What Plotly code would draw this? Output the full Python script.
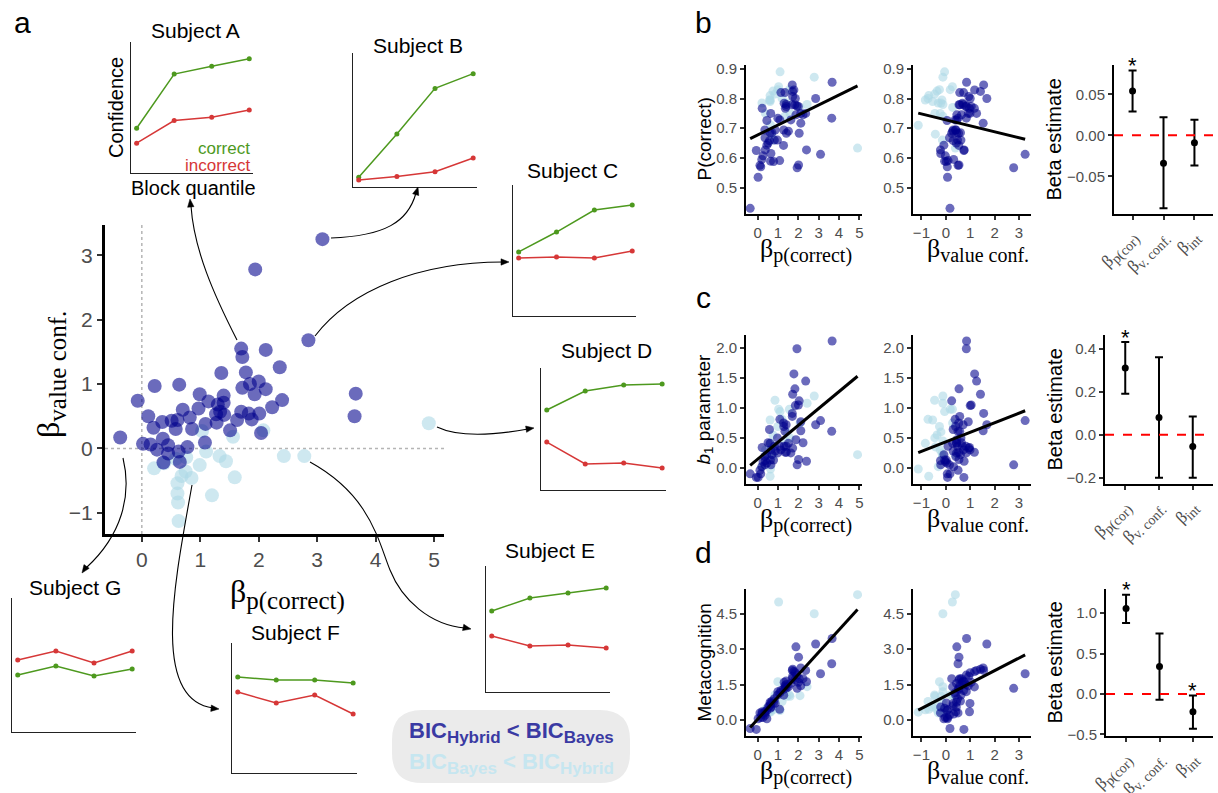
import numpy as np
import plotly.graph_objects as go

W, H = 1218, 793
SANS = "Liberation Sans, Arial, sans-serif"
SERIF = "Liberation Serif, Times New Roman, serif"
GRAY = "#4d4d4d"
DARK = "rgba(0,0,139,0.58)"
LIGHT = "rgba(173,216,230,0.6)"
GREEN = "#4d991e"
RED = "#d63737"

# ---------------- data: subjects (BIC_Hybrid < BIC_Bayes) ----------------
dark_bp = [-0.37, -0.07, 0.02, 0.11, 0.15, 0.20, 0.22, 0.26, 0.35, 0.36, 0.37, 0.45, 0.45, 0.51, 0.58,
           0.61, 0.63, 0.64, 0.65, 0.70, 0.78, 0.82, 0.86, 0.97, 0.99, 1.08, 1.09, 1.14, 1.27, 1.28,
           1.30, 1.34, 1.36, 1.40, 1.40, 1.41, 1.51, 1.63, 1.70, 1.70, 1.72, 1.72, 1.78, 1.83, 1.85,
           1.88, 1.93, 1.94, 2.00, 2.01, 2.04, 2.12, 2.12, 2.23, 2.36, 2.40, 2.85, 3.09, 3.64, 3.66]
dark_bv = [0.17, 0.74, 0.07, 0.50, 0.06, 0.32, 0.97, -0.02, 0.41, 0.15, -0.22, 0.05, -0.08, 0.43, 0.30,
           0.44, -0.05, 0.99, -0.21, 0.60, 0.02, 0.48, 0.30, 0.62, 0.84, 0.09, 0.38, 0.73, 0.53, 0.40,
           0.68, 0.57, 1.17, 0.82, 0.71, 0.52, 0.28, 0.44, 1.55, 0.57, 1.42, 0.94, 1.18, 0.54, 1.00,
           0.45, 0.84, 2.78, 1.04, 0.54, 0.24, 1.53, 0.92, 0.64, 1.26, 0.75, 1.68, 3.25, 0.50, 0.85]
dark_pc = [0.43, 0.625, 0.535, 0.575, 0.57, 0.595, 0.767, 0.607, 0.694, 0.668, 0.627, 0.726, 0.643, 0.65, 0.658,
           0.685, 0.589, 0.75, 0.615, 0.685, 0.588, 0.66, 0.694, 0.66, 0.734, 0.591, 0.728, 0.82, 0.642, 0.694,
           0.784, 0.82, 0.767, 0.773, 0.78, 0.683, 0.69, 0.728, 0.846, 0.779, 0.824, 0.807, 0.829, 0.779, 0.80,
           0.745, 0.775, 0.567, 0.773, 0.576, 0.683, 0.717, 0.75, 0.745, 0.75, 0.627, 0.80, 0.612, 0.734, 0.855]
dark_b1 = [-0.10, -0.16, -0.16, -0.04, -0.10, 0.02, 0.34, 0.10, 0.19, 0.05, 0.12, 0.08, 0.22, 0.42, 0.64,
           0.41, 0.13, 0.30, 0.05, 0.22, 0.13, 0.36, 0.28, 0.50, 0.25, 0.36, 0.81, 0.30, 0.75, 0.69,
           0.36, 0.61, 0.26, 0.36, 0.72, 0.26, 0.41, 0.25, 0.91, 0.86, 1.23, 0.33, 1.57, 1.32, 1.04,
           0.47, 1.99, 0.05, 1.05, 0.14, 1.12, 0.62, 0.77, 0.42, 1.45, 0.11, 0.72, 0.79, 0.61, 2.12]
dark_meta = [-0.36, -0.40, 0.05, 0.30, 0.10, 0.25, 0.35, 0.10, 0.35, 0.20, 0.30, 0.40, 0.05, 0.55, 0.60,
             0.75, 0.50, 0.70, 0.55, 0.80, 0.72, 0.90, 0.70, 1.05, 1.20, 0.45, 1.15, 1.25, 1.30, 1.05,
             1.60, 1.45, 1.40, 1.50, 1.65, 1.35, 1.40, 1.55, 2.10, 1.75, 2.15, 1.85, 2.05, 1.70, 2.00,
             3.10, 1.90, 1.34, 1.60, 2.66, 1.75, 2.20, 1.45, 1.75, 2.10, 1.62, 3.22, 1.96, 2.38, 3.45]

# ---------------- data: subjects (BIC_Bayes < BIC_Hybrid) ----------------
light_bp = [0.21, 0.38, 0.58, 0.61, 0.61, 0.62, 0.63, 0.68, 0.75, 0.76, 0.85, 0.99, 1.03, 1.10, 1.20,
            1.33, 1.44, 1.56, 1.59, 2.08, 2.43, 2.78, 4.91]
light_bv = [-0.31, -0.23, -0.16, -0.54, -0.70, -0.84, -1.13, -0.43, -0.36, -0.14, -0.46, -0.26, 0.27, -0.05, -0.73,
            -0.12, -0.20, 0.18, -0.45, 0.28, -0.12, -0.12, 0.39]
light_pc = [0.785, 0.75, 0.795, 0.79, 0.81, 0.795, 0.71, 0.68, 0.825, 0.66, 0.815, 0.83, 0.84, 0.89, 0.80,
            0.74, 0.785, 0.83, 0.75, 0.77, 0.78, 0.872, 0.633]
light_b1 = [0.02, 0.30, 0.25, 0.80, -0.14, 0.41, -0.02, 0.35, 0.55, 0.20, 1.13, 0.69, 0.98, 0.94, 0.81,
            0.45, 0.60, 0.98, 0.50, 0.75, 1.08, 1.20, 0.22]
light_meta = [0.30, 0.45, 0.35, 0.55, 0.45, 0.43, 0.33, 0.60, 0.43, 0.75, 1.06, 1.62, 5.0, 0.40, 0.78,
              1.20, 1.00, 1.06, 1.0, 1.03, 1.41, 4.5, 5.31]

# regression lines (intercept, slope)
fit_pc_bp = (0.6775, 0.0336)
fit_pc_bv = (0.7282, -0.0201)
fit_b1_bp = (0.146, 0.282)
fit_b1_bv = (0.434, 0.160)
fit_meta_bp = (0.032, 0.947)
fit_meta_bv = (1.023, 0.534)


def sub(base, s, px_size):
    return f"{base}<sub><span style='font-size:{px_size}px'>{s}</span></sub>"


# beta estimates
beta_labels = [sub("β", "p(cor)", 14), sub("β", "v. conf.", 14), sub("β", "int", 14)]
beta_pc_est = [0.054, -0.034, -0.009]
beta_pc_lo = [0.029, -0.089, -0.037]
beta_pc_hi = [0.079, 0.022, 0.019]
beta_pc_sig = [True, False, False]
beta_b1_est = [0.31, 0.08, -0.055]
beta_b1_lo = [0.19, -0.20, -0.20]
beta_b1_hi = [0.43, 0.36, 0.085]
beta_b1_sig = [True, False, False]
beta_meta_est = [1.06, 0.34, -0.22]
beta_meta_lo = [0.88, -0.07, -0.43]
beta_meta_hi = [1.23, 0.75, -0.02]
beta_meta_sig = [True, False, True]

# example subjects: confidence by block quantile
quantiles = [1, 2, 3, 4]
subjects = ["Subject A", "Subject B", "Subject C", "Subject D", "Subject E", "Subject F", "Subject G"]
conf_correct = {
    "Subject A": [0.342, 0.755, 0.815, 0.873],
    "Subject B": [0.072, 0.396, 0.736, 0.846],
    "Subject C": [0.489, 0.641, 0.809, 0.847],
    "Subject D": [0.656, 0.811, 0.860, 0.869],
    "Subject E": [0.643, 0.746, 0.786, 0.825],
    "Subject F": [0.738, 0.715, 0.715, 0.692],
    "Subject G": [0.425, 0.493, 0.418, 0.470],
}
conf_incorrect = {
    "Subject A": [0.228, 0.400, 0.426, 0.481],
    "Subject B": [0.052, 0.079, 0.114, 0.216],
    "Subject C": [0.443, 0.450, 0.443, 0.496],
    "Subject D": [0.393, 0.213, 0.221, 0.180],
    "Subject E": [0.444, 0.365, 0.373, 0.349],
    "Subject F": [0.623, 0.538, 0.600, 0.454],
    "Subject G": [0.537, 0.604, 0.515, 0.604],
}

# ---------------- figure ----------------
fig = go.Figure()
annotations = []
shapes = []
counter = [0]


def px(x):
    return x / W


def py(y):
    return 1 - y / H


def add_axes(x0, x1, y0, y1, xaxis, yaxis):
    counter[0] += 1
    n = counter[0]
    sx = "" if n == 1 else str(n)
    xa, ya = "xaxis" + sx, "yaxis" + sx
    xr, yr = "x" + sx, "y" + sx
    xaxis = dict(xaxis, domain=[px(x0), px(x1)], anchor=yr)
    yaxis = dict(yaxis, domain=[py(y1), py(y0)], anchor=xr)
    fig.update_layout({xa: xaxis, ya: yaxis})
    return xr, yr


def std_axis(size=15, lw=2, **kw):
    d = dict(showgrid=False, zeroline=False, showline=True, linecolor="black", linewidth=lw,
             ticks="outside", ticklen=4, tickwidth=1.5, tickcolor="#333333",
             tickfont=dict(family=SANS, size=size, color=GRAY), automargin=False, fixedrange=True)
    d.update(kw)
    return d


def ann(x, y, text, size, color="black", family=SANS, angle=0, xanchor="center", yanchor="middle", **kw):
    d = dict(x=px(x), y=py(y), xref="paper", yref="paper", text=text, showarrow=False,
             font=dict(family=family, size=size, color=color), textangle=angle,
             xanchor=xanchor, yanchor=yanchor)
    d.update(kw)
    annotations.append(d)


def ppath(cmds):
    out = []
    for c in cmds:
        letter, nums = c[0], c[1:]
        pts = []
        for i in range(0, len(nums), 2):
            pts.append(f"{px(nums[i]):.5f},{py(nums[i + 1]):.5f}")
        out.append(letter + " " + " ".join(pts))
    return " ".join(out)


# ---- panel a: main scatter ----
xr, yr = add_axes(105, 444, 225, 534,
                  std_axis(size=21, lw=3, range=[-0.63, 5.17], tickvals=[0, 1, 2, 3, 4, 5], ticklen=5),
                  std_axis(size=21, lw=3, range=[-1.33, 3.47], tickvals=[-1, 0, 1, 2, 3], ticklen=5))
shapes.append(dict(type="line", xref=xr, yref=yr + " domain", x0=0, x1=0, y0=0, y1=1,
                   line=dict(color="#b5b5b5", width=1.5, dash="dot"), layer="below"))
shapes.append(dict(type="line", xref=xr + " domain", yref=yr, x0=0, x1=1, y0=0, y1=0,
                   line=dict(color="#b5b5b5", width=1.5, dash="dot"), layer="below"))
fig.add_trace(go.Scatter(x=light_bp, y=light_bv, mode="markers", xaxis=xr, yaxis=yr,
                         marker=dict(color=LIGHT, size=14, line_width=0)))
fig.add_trace(go.Scatter(x=dark_bp, y=dark_bv, mode="markers", xaxis=xr, yaxis=yr,
                         marker=dict(color=DARK, size=14, line_width=0)))
ann(50, 375, sub("β", "value conf.", 25), 32, family=SERIF, angle=-90)
ann(287, 594, sub("β", "p(correct)", 25), 32, family=SERIF)
ann(22, 22, "a", 30)

# ---- insets ----
inset_boxes = {
    "Subject A": (131, 253, 42, 173),
    "Subject B": (353, 477, 53, 187),
    "Subject C": (513, 636, 185, 316),
    "Subject D": (541, 666, 368, 490),
    "Subject E": (486, 610, 566, 692),
    "Subject F": (232, 357, 643, 773),
    "Subject G": (12, 136, 598, 732),
}
title_pos = {
    "Subject A": (195, 31), "Subject B": (418, 45), "Subject C": (572, 170), "Subject D": (606, 350),
    "Subject E": (550, 550), "Subject F": (295, 632), "Subject G": (75, 587),
}
for s in subjects:
    x0, x1, y0, y1 = inset_boxes[s]
    ia = dict(showgrid=False, zeroline=False, showline=True, linecolor="#222222", linewidth=1.2,
              ticks="", showticklabels=False, automargin=False, fixedrange=True)
    xr_i, yr_i = add_axes(x0, x1, y0, y1, dict(ia, range=[0.85, 4.1]), dict(ia, range=[0, 1]))
    fig.add_trace(go.Scatter(x=quantiles, y=conf_correct[s], mode="lines+markers", xaxis=xr_i, yaxis=yr_i,
                             line=dict(color=GREEN, width=1.5), marker=dict(color=GREEN, size=5)))
    fig.add_trace(go.Scatter(x=quantiles, y=conf_incorrect[s], mode="lines+markers", xaxis=xr_i, yaxis=yr_i,
                             line=dict(color=RED, width=1.5), marker=dict(color=RED, size=5)))
    tx, ty = title_pos[s]
    ann(tx, ty, s, 21)

ann(116, 108, "Confidence", 20, angle=-90)
ann(193, 188, "Block quantile", 20)
ann(252, 149, "correct", 17, color=GREEN, xanchor="right")
ann(252, 165, "incorrect", 17, color=RED, xanchor="right")

# ---- arrows (curved connectors with triangular heads) ----
arrows = [
    ([("M", 237, 340), ("C", 214, 295, 194, 250, 191, 206)], (190, 199), (-0.1, -1)),
    ([("M", 331, 238), ("C", 385, 236, 408, 222, 416, 193)], (418, 187), (0.3, -1)),
    ([("M", 315, 336), ("C", 350, 290, 420, 262, 503, 262)], (509, 262), (1, 0)),
    ([("M", 437, 427), ("C", 460, 438, 495, 435, 528, 429)], (534, 428), (1, -0.15)),
    ([("M", 310, 462), ("C", 370, 495, 378, 540, 390, 570), ("S", 430, 625, 465, 628)], (471, 629), (1, 0.2)),
    ([("M", 192, 485), ("C", 175, 580, 150, 700, 213, 708)], (219, 709), (1, 0.1)),
    ([("M", 123, 458), ("C", 132, 495, 122, 535, 86, 568)], (82, 573), (-0.7, 1)),
]
for path, tip, d in arrows:
    shapes.append(dict(type="path", xref="paper", yref="paper", path=ppath(path),
                       line=dict(color="black", width=1.1)))
    dv = np.array(d, dtype=float)
    dv = dv / np.linalg.norm(dv)
    nv = np.array([-dv[1], dv[0]])
    t = np.array(tip, dtype=float)
    base = t - dv * 8
    p1 = base + nv * 3.2
    p2 = base - nv * 3.2
    shapes.append(dict(type="path", xref="paper", yref="paper", fillcolor="black",
                       line=dict(color="black", width=0.5),
                       path=ppath([("M", t[0], t[1]), ("L", p1[0], p1[1]), ("L", p2[0], p2[1]), ("Z",)])))

# ---- BIC legend ----
bx0, bx1, by0, by1, r = 392, 630, 710, 783, 30
shapes.append(dict(type="path", xref="paper", yref="paper", fillcolor="#ebebeb", line=dict(width=0),
                   path=ppath([("M", bx0 + r, by0), ("L", bx1 - r, by0), ("Q", bx1, by0, bx1, by0 + r),
                               ("L", bx1, by1 - r), ("Q", bx1, by1, bx1 - r, by1), ("L", bx0 + r, by1),
                               ("Q", bx0, by1, bx0, by1 - r), ("L", bx0, by0 + r),
                               ("Q", bx0, by0, bx0 + r, by0), ("Z",)]), layer="below"))
ann(511, 732, "<b>" + sub("BIC", "Hybrid", 17) + " &lt; " + sub("BIC", "Bayes", 17) + "</b>", 22, color="#3a3aa3")
ann(511, 763, "<b>" + sub("BIC", "Bayes", 17) + " &lt; " + sub("BIC", "Hybrid", 17) + "</b>", 22, color="#c6e6f0")

# ---- panels b, c, d ----
rows = [
    dict(label="b", ly=22, top=65, bot=214, dark=dark_pc, light=light_pc, yrange=[0.411, 0.913],
         yticks=[0.5, 0.6, 0.7, 0.8, 0.9], yfmt=".1f", ytitle="P(correct)", ytsize=19,
         fits=(fit_pc_bp, fit_pc_bv), bx=1114, brange=[-0.096, 0.0857], bticks=[-0.05, 0, 0.05], bfmt=".2f",
         est=beta_pc_est, lo=beta_pc_lo, hi=beta_pc_hi, sig=beta_pc_sig),
    dict(label="c", ly=298, top=335, bot=484, dark=dark_b1, light=light_b1, yrange=[-0.27, 2.22],
         yticks=[0, 0.5, 1.0, 1.5, 2.0], yfmt=".1f", ytitle="<i>b</i><sub>1</sub> parameter", ytsize=19,
         fits=(fit_b1_bp, fit_b1_bv), bx=1105, brange=[-0.229, 0.463], bticks=[-0.2, 0, 0.2, 0.4], bfmt=".1f",
         est=beta_b1_est, lo=beta_b1_lo, hi=beta_b1_hi, sig=beta_b1_sig),
    dict(label="d", ly=552, top=589, bot=736, dark=dark_meta, light=light_meta, yrange=[-0.68, 5.55],
         yticks=[0, 1.5, 3.0, 4.5], yfmt=".1f", ytitle="Metacognition", ytsize=19,
         fits=(fit_meta_bp, fit_meta_bv), bx=1106, brange=[-0.52, 1.30], bticks=[-0.5, 0, 0.5, 1.0], bfmt=".1f",
         est=beta_meta_est, lo=beta_meta_lo, hi=beta_meta_hi, sig=beta_meta_sig),
]
for row in rows:
    top, bot = row["top"], row["bot"]
    ann(703, row["ly"], row["label"], 30)
    yax = std_axis(range=row["yrange"], tickvals=row["yticks"], tickformat=row["yfmt"])
    for xl0, xl1, xrange, xticks, xd, xl, fit, xtitle, xtx in [
        (746, 862, [-0.576, 5.13], [0, 1, 2, 3, 4, 5], dark_bp, light_bp, row["fits"][0],
         sub("β", "p(correct)", 20), 806),
        (913, 1031, [-1.345, 3.49], [-1, 0, 1, 2, 3], dark_bv, light_bv, row["fits"][1],
         sub("β", "value conf.", 20), 978),
    ]:
        xr_s, yr_s = add_axes(xl0, xl1, top, bot, std_axis(range=xrange, tickvals=xticks), yax)
        fig.add_trace(go.Scatter(x=xl, y=row["light"], mode="markers", xaxis=xr_s, yaxis=yr_s,
                                 marker=dict(color=LIGHT, size=9, line_width=0)))
        fig.add_trace(go.Scatter(x=xd, y=row["dark"], mode="markers", xaxis=xr_s, yaxis=yr_s,
                                 marker=dict(color=DARK, size=9, line_width=0)))
        allx = np.array(xd + xl)
        lx = np.array([allx.min(), allx.max()])
        fig.add_trace(go.Scatter(x=lx, y=fit[0] + fit[1] * lx, mode="lines", xaxis=xr_s, yaxis=yr_s,
                                 line=dict(color="black", width=3)))
        ann(xtx, bot + 36, xtitle, 26, family=SERIF)
    ann(704, (top + bot) / 2, row["ytitle"], row["ytsize"], angle=-90)

    # beta estimate panel
    xr_b, yr_b = add_axes(row["bx"], 1213, top, bot,
                          std_axis(range=[0.4, 3.6], tickvals=[1, 2, 3], ticktext=beta_labels, tickangle=-45,
                                   tickfont=dict(family=SERIF, size=17, color=GRAY)),
                          std_axis(size=15, range=row["brange"], tickvals=row["bticks"], tickformat=row["bfmt"]))
    shapes.append(dict(type="line", xref=xr_b + " domain", yref=yr_b, x0=0, x1=1, y0=0, y1=0,
                       line=dict(color="red", width=2, dash="dash")))
    est = np.array(row["est"])
    lo = np.array(row["lo"])
    hi = np.array(row["hi"])
    fig.add_trace(go.Scatter(x=[1, 2, 3], y=est, mode="markers", xaxis=xr_b, yaxis=yr_b,
                             marker=dict(color="black", size=7),
                             error_y=dict(type="data", symmetric=False, array=hi - est, arrayminus=est - lo,
                                          color="black", thickness=2, width=4)))
    for i, s in enumerate(row["sig"]):
        if s:
            annotations.append(dict(x=i + 1, y=row["hi"][i], xref=xr_b, yref=yr_b, text="*", showarrow=False,
                                    font=dict(family=SANS, size=22, color="black"), yanchor="middle", yshift=5))
    ann(1054, (top + bot) / 2, "Beta estimate", 20, angle=-90)

fig.update_layout(width=W, height=H, margin=dict(l=0, r=0, t=0, b=0), template="none",
                  paper_bgcolor="white", plot_bgcolor="rgba(0,0,0,0)", showlegend=False,
                  annotations=annotations, shapes=shapes)
fig.write_html("out.html")
